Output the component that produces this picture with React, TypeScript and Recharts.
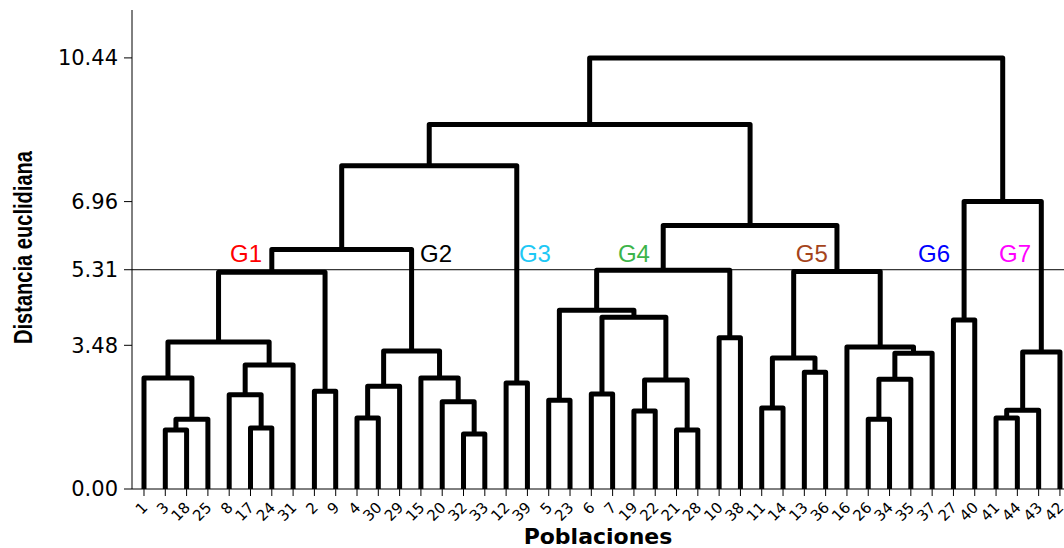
import {
  ComposedChart,
  Line,
  XAxis,
  YAxis,
  ReferenceLine,
  ReferenceDot,
} from "recharts";

type NodeRef = number | string;

// populations in the order they appear along the x axis
const LEAVES = [
  1, 3, 18, 25, 8, 17, 24, 31, 2, 9, 4, 30, 29, 15, 20, 32, 33, 12, 39, 5, 23, 6,
  7, 19, 22, 21, 28, 10, 38, 11, 14, 13, 36, 16, 26, 34, 35, 37, 27, 40, 41, 44, 43, 42,
];

// a number is a population, "cN" is the cluster made by merge N
const MERGE_PAIRS: [NodeRef, NodeRef][] = [
  [3, 18], ["c0", 25], [1, "c1"], [17, 24], [8, "c3"], ["c4", 31], ["c2", "c5"],
  [2, 9], ["c6", "c7"],
  [4, 30], ["c9", 29], [32, 33], [20, "c11"], [15, "c12"], ["c10", "c13"], ["c8", "c14"],
  [12, 39], ["c15", "c16"],
  [5, 23], [6, 7], [19, 22], [21, 28], ["c20", "c21"], ["c19", "c22"], ["c18", "c23"],
  [10, 38], ["c24", "c25"],
  [11, 14], [13, 36], ["c27", "c28"], [26, 34], ["c30", 35], ["c31", 37], [16, "c32"],
  ["c29", "c33"], ["c26", "c34"], ["c17", "c35"],
  [27, 40],
  [41, 44], ["c38", 43], ["c39", 42], ["c37", "c40"], ["c36", "c41"],
];

const MERGE_HEIGHTS = [
  1.43, 1.69, 2.69, 1.48, 2.28, 3.0, 3.56,
  2.37, 5.25,
  1.72, 2.49, 1.33, 2.11, 2.69, 3.34, 5.8,
  2.57, 7.83,
  2.15, 2.3, 1.89, 1.43, 2.64, 4.16, 4.33,
  3.66, 5.3,
  1.96, 2.83, 3.17, 1.69, 2.66, 3.29, 3.44,
  5.27, 6.38, 8.83,
  4.09,
  1.72, 1.91, 3.32, 6.96, 10.44,
];

const Y_TICKS = [0, 3.48, 5.31, 6.96, 10.44];
const CUT_HEIGHT = 5.31;

const GROUPS = ["G1", "G2", "G3", "G4", "G5", "G6", "G7"];
const GROUP_COLORS = ["#ff0000", "#000000", "#1ec8f5", "#3cb44a", "#a5441b", "#0000ff", "#ff00ff"];
// where each group tag starts, in leaf units
const GROUP_X = [4.04, 12.96, 17.6, 22.25, 30.6, 36.34, 40.14];
const GROUP_Y = 5.5;

const leafIndex = new Map(LEAVES.map((p, i) => [p, i]));
const nodes: { x: number; h: number }[] = [];

function getNode(ref: NodeRef) {
  if (typeof ref === "number") return { x: leafIndex.get(ref)!, h: 0 };
  return nodes[Number(ref.slice(1))];
}

const links = MERGE_PAIRS.map(([a, b], i) => {
  const l = getNode(a);
  const r = getNode(b);
  const h = MERGE_HEIGHTS[i];
  nodes.push({ x: (l.x + r.x) / 2, h });
  return [
    { x: l.x, y: l.h },
    { x: l.x, y: h },
    { x: r.x, y: h },
    { x: r.x, y: r.h },
  ];
});

const axisFont = "'DejaVu Sans', Verdana, sans-serif";

export default function App() {
  return (
    <div style={{ position: "absolute", left: 0, top: 0, background: "#fff" }}>
      <ComposedChart
        width={1064}
        height={548}
        margin={{ top: 10, right: 0, bottom: 0, left: 0 }}
      >
        <XAxis
          type="number"
          dataKey="x"
          domain={[-0.563, 43.19]}
          allowDataOverflow
          ticks={LEAVES.map((_, i) => i)}
          interval={0}
          tickFormatter={(i: number) => String(LEAVES[i])}
          height={59}
          tickSize={7}
          tickMargin={5}
          axisLine={{ stroke: "#000" }}
          tickLine={{ stroke: "#000" }}
          tick={{
            fill: "#000",
            fontSize: 15,
            fontFamily: axisFont,
            angle: -45,
            textAnchor: "end",
            dx: -3,
          }}
          label={{
            value: "Poblaciones",
            position: "insideBottom",
            offset: 4,
            fill: "#000",
            fontSize: 22,
            fontWeight: "bold",
            fontFamily: axisFont,
          }}
        />
        <YAxis
          type="number"
          domain={[0, 11.6]}
          allowDataOverflow
          ticks={Y_TICKS}
          interval={0}
          tickFormatter={(v: number) => v.toFixed(2)}
          width={132}
          tickSize={8}
          tickMargin={6}
          axisLine={{ stroke: "#000" }}
          tickLine={{ stroke: "#000" }}
          tick={{ fill: "#000", fontSize: 21, fontFamily: axisFont }}
          label={{
            value: "Distancia euclidiana",
            angle: -90,
            position: "insideLeft",
            offset: 23,
            dy: -2,
            fill: "#000",
            fontSize: 26,
            fontWeight: "bold",
            fontFamily: "'Liberation Sans', Arial, sans-serif",
            textLength: 193,
            lengthAdjust: "spacingAndGlyphs",
            style: { textAnchor: "middle" },
          }}
        />
        <ReferenceLine y={CUT_HEIGHT} stroke="#000" strokeWidth={1} />
        {links.map((pts, i) => (
          <Line
            key={i}
            data={pts}
            dataKey="y"
            type="linear"
            stroke="#000"
            strokeWidth={5}
            strokeLinejoin="round"
            dot={false}
            activeDot={false}
            isAnimationActive={false}
          />
        ))}
        {GROUPS.map((g, i) => (
          <ReferenceDot
            key={g}
            x={GROUP_X[i]}
            y={GROUP_Y}
            r={0}
            ifOverflow="visible"
            shape={(p: any) => (
              <text
                x={p.cx}
                y={p.cy}
                fill={GROUP_COLORS[i]}
                fontSize={24}
                fontFamily="'Liberation Sans', Arial, sans-serif"
              >
                {g}
              </text>
            )}
          />
        ))}
      </ComposedChart>
    </div>
  );
}
